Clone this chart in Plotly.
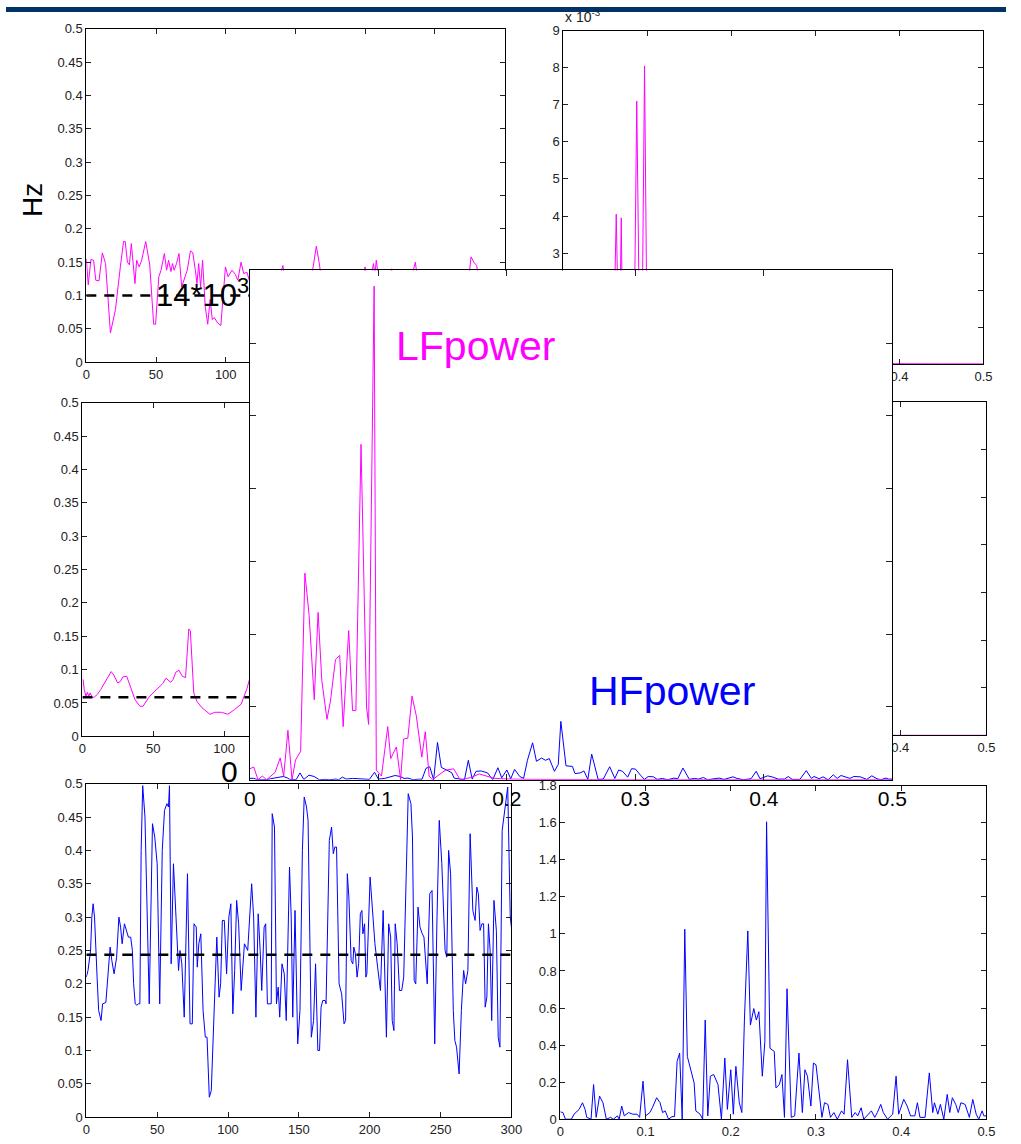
import plotly.graph_objects as go

W, H = 1021, 1144

# ---------------- data ----------------
# top-left: LF centre frequency over time (Hz)
A_T = [0, 1.4, 3.3, 5.2, 6.8, 9.1, 11.5, 13.8, 17.3, 20.9,
       24.4, 26.7, 27.9, 29.5, 30.9, 32.3, 34.9, 36.1, 37.9, 39.6,
       42.6, 45.5, 48.3, 49.7, 52.0, 53.6, 56.0, 57.6, 59.0, 60.7,
       61.8, 63.0, 64.7, 66.5, 68.4, 70.5, 72.4, 74.7, 76.4, 78.2,
       79.4, 80.6, 82.0, 83.4, 85.3, 87.1, 88.8, 90.4, 91.8, 94.2,
       96.5, 99.8, 101.7, 104.5, 106.8, 108.7, 111.0, 112.9, 115.2, 116.9,
       119, 122, 125, 128, 131, 134, 137, 139, 141, 143,
       146, 149, 152, 155, 158, 161, 163, 165, 167, 169,
       172, 175, 178, 181, 184, 187, 190, 193, 196, 198,
       200, 202, 204, 206, 207, 208, 210, 213, 216, 219,
       221, 224, 227, 230, 233, 236, 238, 241, 244, 247,
       250, 253, 256, 259, 262, 265, 268, 271, 274, 276,
       278, 280, 282, 285, 288, 291, 294, 297, 300]
A_HZ = [0.155, 0.116, 0.154, 0.153, 0.123, 0.122, 0.164, 0.148, 0.044, 0.079,
        0.143, 0.181, 0.181, 0.150, 0.146, 0.178, 0.118, 0.153, 0.143, 0.152,
        0.181, 0.146, 0.057, 0.057, 0.128, 0.138, 0.163, 0.138, 0.153, 0.136,
        0.148, 0.138, 0.148, 0.163, 0.113, 0.125, 0.138, 0.167, 0.164, 0.138,
        0.118, 0.148, 0.113, 0.153, 0.084, 0.057, 0.094, 0.064, 0.067, 0.059,
        0.055, 0.143, 0.128, 0.138, 0.132, 0.123, 0.150, 0.133, 0.135, 0.123,
        0.11, 0.13, 0.10, 0.12, 0.09, 0.11, 0.125, 0.13, 0.145, 0.12,
        0.10, 0.12, 0.09, 0.11, 0.13, 0.12, 0.15, 0.174, 0.15, 0.12,
        0.10, 0.115, 0.09, 0.11, 0.125, 0.10, 0.12, 0.105, 0.13, 0.12,
        0.143, 0.11, 0.125, 0.148, 0.13, 0.153, 0.12, 0.10, 0.12, 0.14,
        0.11, 0.09, 0.12, 0.10, 0.125, 0.15, 0.12, 0.10, 0.115, 0.09,
        0.11, 0.125, 0.10, 0.12, 0.095, 0.11, 0.13, 0.105, 0.12, 0.158,
        0.15, 0.145, 0.12, 0.10, 0.115, 0.095, 0.11, 0.12, 0.10]

# top-right: LF spectrum (x 10^-3)
B_F = [0.0, 0.01, 0.02, 0.03, 0.04, 0.045, 0.05, 0.055, 0.0605, 0.063,
       0.0655, 0.0675, 0.069, 0.0705, 0.075, 0.08, 0.0845, 0.0874, 0.0905, 0.094,
       0.0967, 0.0995, 0.105, 0.11, 0.12, 0.13, 0.14, 0.15, 0.17, 0.20,
       0.25, 0.30, 0.35, 0.40, 0.45, 0.50]
B_P = [0.2, 0.3, 0.5, 0.8, 1.2, 1.8, 1.5, 2.0, 1.2, 4.05,
       1.0, 1.5, 3.95, 0.8, 1.6, 2.1, 1.0, 7.1, 1.2, 1.4,
       8.05, 1.0, 0.6, 1.2, 0.5, 0.8, 0.3, 0.15, 0.08, 0.05,
       0.03, 0.02, 0.02, 0.01, 0.01, 0.01]

# middle-left: LF centre frequency over time (Hz)
C_T = [0, 0.5, 1.3, 2.5, 3.5, 4.5, 5.5, 7.0, 8.5, 10.6,
       12.9, 15.2, 17.5, 20.3, 22.1, 24.9, 26.7, 28.6, 31.3, 33.6,
       37.1, 40.6, 42.8, 47.4, 52.0, 56.7, 59.0, 62.4, 64.0, 65.9,
       68.2, 70.5, 72.8, 75.1, 76.2, 78.6, 80.9, 84.3, 90.0, 93.5,
       98.1, 102.7, 107.3, 112.0, 115.9, 117.9,
       122, 127, 132, 137, 142, 147, 152, 157, 162, 167,
       172, 177, 182, 187, 192, 197, 202, 207, 212, 217,
       222, 227, 232, 237, 242, 247, 252, 257, 262, 267,
       272, 277, 282, 287, 292, 297, 300]
C_HZ = [0.085, 0.085, 0.07, 0.06, 0.066, 0.06, 0.065, 0.058, 0.059, 0.063,
        0.07, 0.078, 0.087, 0.097, 0.092, 0.08, 0.082, 0.089, 0.09, 0.077,
        0.055, 0.045, 0.045, 0.06, 0.07, 0.079, 0.087, 0.081, 0.085, 0.096,
        0.099, 0.09, 0.088, 0.161, 0.158, 0.065, 0.052, 0.043, 0.033, 0.036,
        0.036, 0.033, 0.04, 0.048, 0.07, 0.085,
        0.095, 0.10, 0.09, 0.08, 0.072, 0.065, 0.07, 0.078, 0.085, 0.08,
        0.07, 0.062, 0.058, 0.06, 0.068, 0.075, 0.082, 0.09, 0.086, 0.078,
        0.07, 0.064, 0.06, 0.066, 0.072, 0.08, 0.085, 0.079, 0.07, 0.062,
        0.058, 0.063, 0.07, 0.077, 0.074, 0.068, 0.066]

# bottom-left: HF centre frequency over time (Hz)
E_T = [0, 1.2, 3.0, 3.9, 4.8, 5.8, 7.6, 8.7, 10.4, 11.5,
       13.8, 15.4, 16.8, 18.0, 19.6, 21.4, 23.0, 24.2, 25.3, 26.9,
       28.3, 29.7, 31.3, 32.5, 33.4, 34.5, 35.7, 36.8, 37.8, 38.7,
       39.8, 41.4, 44.4, 46.7, 48.3, 50.0, 51.8, 53.6, 55.2, 56.9,
       58.0, 58.7, 59.9, 61.5, 63.3, 65.1, 66.1, 67.4, 69.1, 71.4,
       73.2, 74.8, 76.0, 77.6, 78.3, 79.4, 80.8, 82.4, 84.0, 85.2,
       86.8, 88.2, 90.9, 92.1, 93.7, 94.8, 96.0, 97.4, 99.0, 100.6,
       102.0, 103.4, 104.7, 106.1, 107.5, 109.3, 111.6, 113.9, 116.7, 118.1,
       119.7, 121.3, 122.7, 123.8, 125.5, 126.6, 127.8, 128.9, 130.5, 131.2,
       132.8, 134.2, 135.4, 136.5, 138.1, 139.7, 141.1, 143.4, 144.6, 145.7,
       147.3, 149.2, 150.8, 152.5, 153.8, 155.4, 156.5, 158.8, 160.4, 161.8,
       163.4, 164.6, 165.7, 166.9, 168.5, 169.2, 171.5, 173.1, 174.3, 175.4,
       176.6, 178.4, 180.2, 181.9, 183.0, 184.2, 185.3, 186.9, 188.1, 188.8,
       189.9, 191.1, 192.2, 193.4, 194.5, 195.2, 196.4, 197.3, 198.0, 200.3,
       201.9, 203.7, 205.6, 207.6, 209.5, 210.6, 211.8, 213.4, 214.8, 215.9,
       217.1, 218.0, 219.4, 221.0, 222.6, 224.0, 225.6, 227.2, 229.1, 230.2,
       231.4, 232.5, 234.1, 235.5, 237.1, 238.3, 240.6, 242.4, 244.0, 245.9,
       247.5, 249.1, 250.9, 253.2, 254.4, 255.7, 257.1, 259.0, 260.1, 261.3,
       263.1, 264.7, 266.3, 267.7, 269.3, 270.9, 272.8, 274.4, 275.6, 276.7,
       277.9, 279.2, 280.4, 281.5, 282.7, 283.8, 285.0, 286.1, 287.7, 289.4,
       290.7, 291.9, 293.5, 295.3, 297.4, 299.2, 300]
E_HZ = [0.21, 0.22, 0.25, 0.30, 0.32, 0.30, 0.21, 0.16, 0.145, 0.17,
        0.172, 0.225, 0.255, 0.235, 0.215, 0.24, 0.30, 0.285, 0.26, 0.29,
        0.28, 0.27, 0.27, 0.25, 0.20, 0.17, 0.168, 0.17, 0.17, 0.40,
        0.497, 0.45, 0.17, 0.44, 0.42, 0.38, 0.17, 0.40, 0.46, 0.47,
        0.465, 0.497, 0.23, 0.38, 0.30, 0.22, 0.25, 0.23, 0.15, 0.365,
        0.14, 0.14, 0.29, 0.285, 0.225, 0.26, 0.275, 0.16, 0.12, 0.12,
        0.03, 0.04, 0.20, 0.27, 0.18, 0.20, 0.295, 0.295, 0.215, 0.30,
        0.32, 0.155, 0.22, 0.325, 0.29, 0.19, 0.26, 0.25, 0.35, 0.30,
        0.15, 0.305, 0.25, 0.19, 0.285, 0.29, 0.17, 0.17, 0.17, 0.455,
        0.435, 0.17, 0.195, 0.15, 0.23, 0.215, 0.145, 0.375, 0.30, 0.15,
        0.31, 0.11, 0.16, 0.40, 0.48, 0.465, 0.445, 0.12, 0.145, 0.23,
        0.10, 0.10, 0.165, 0.175, 0.175, 0.17, 0.415, 0.435, 0.395, 0.405,
        0.405, 0.20, 0.185, 0.14, 0.145, 0.365, 0.33, 0.235, 0.23, 0.255,
        0.245, 0.21, 0.23, 0.305, 0.31, 0.275, 0.29, 0.21, 0.215, 0.36,
        0.31, 0.26, 0.225, 0.19, 0.31, 0.22, 0.12, 0.29, 0.27, 0.145,
        0.13, 0.29, 0.26, 0.19, 0.19, 0.21, 0.35, 0.485, 0.47, 0.42,
        0.205, 0.20, 0.315, 0.285, 0.275, 0.27, 0.20, 0.335, 0.34, 0.11,
        0.30, 0.445, 0.38, 0.25, 0.24, 0.40, 0.365, 0.16, 0.115, 0.105,
        0.065, 0.16, 0.22, 0.20, 0.22, 0.425, 0.31, 0.295, 0.345, 0.335,
        0.28, 0.29, 0.29, 0.165, 0.18, 0.29, 0.25, 0.145, 0.325, 0.28,
        0.12, 0.105, 0.43, 0.46, 0.495, 0.30, 0.285]

# bottom-right: HF spectrum
HF_F = [0.0, 0.003, 0.006, 0.013, 0.016, 0.022, 0.026, 0.029, 0.031, 0.036,
        0.039, 0.042, 0.046, 0.050, 0.054, 0.059, 0.062, 0.067, 0.069, 0.072,
        0.075, 0.080, 0.085, 0.090, 0.093, 0.097, 0.100, 0.105, 0.108, 0.113,
        0.117, 0.120, 0.123, 0.127, 0.131, 0.134, 0.137, 0.140, 0.143, 0.146,
        0.149, 0.154, 0.157, 0.159, 0.164, 0.167, 0.170, 0.173, 0.176, 0.180,
        0.185, 0.189, 0.193, 0.196, 0.200, 0.203, 0.206, 0.210, 0.213, 0.216,
        0.220, 0.223, 0.227, 0.230, 0.233, 0.237, 0.240, 0.242, 0.246, 0.251,
        0.253, 0.257, 0.260, 0.263, 0.266, 0.271, 0.275, 0.280, 0.284, 0.287,
        0.290, 0.294, 0.297, 0.300, 0.304, 0.307, 0.310, 0.314, 0.317, 0.321,
        0.325, 0.330, 0.333, 0.337, 0.342, 0.346, 0.349, 0.353, 0.356, 0.361,
        0.365, 0.369, 0.372, 0.376, 0.379, 0.384, 0.390, 0.394, 0.397, 0.403,
        0.407, 0.411, 0.416, 0.419, 0.422, 0.428, 0.433, 0.437, 0.439, 0.443,
        0.446, 0.450, 0.454, 0.457, 0.460, 0.464, 0.467, 0.470, 0.475, 0.480,
        0.484, 0.488, 0.491, 0.495, 0.497, 0.500]
HF_P = [0.04, 0.036, 0.0, 0.0, 0.027, 0.053, 0.089, 0.053, 0.01, 0.0,
        0.187, 0.01, 0.125, 0.089, 0.0, 0.01, 0.0, 0.018, 0.0, 0.071,
        0.018, 0.036, 0.027, 0.027, 0.01, 0.205, 0.018, 0.036, 0.062, 0.116,
        0.089, 0.036, 0.045, 0.0, 0.014, 0.014, 0.312, 0.357, 0.0, 1.025,
        0.339, 0.25, 0.196, 0.045, 0.027, 0.0, 0.535, 0.018, 0.232, 0.241,
        0.187, 0.0, 0.33, 0.053, 0.267, 0.027, 0.285, 0.089, 0.036, 0.535,
        1.016, 0.508, 0.597, 0.535, 0.58, 0.232, 0.419, 1.605, 0.383, 0.366,
        0.169, 0.187, 0.241, 0.01, 0.704, 0.01, 0.018, 0.357, 0.036, 0.267,
        0.232, 0.071, 0.303, 0.294, 0.125, 0.01, 0.089, 0.08, 0.01, 0.036,
        0.0, 0.045, 0.027, 0.321, 0.01, 0.036, 0.018, 0.062, 0.0, 0.027,
        0.045, 0.01, 0.036, 0.08, 0.036, 0.0, 0.027, 0.232, 0.027, 0.107,
        0.071, 0.018, 0.018, 0.089, 0.01, 0.01, 0.25, 0.036, 0.089, 0.027,
        0.08, 0.0, 0.134, 0.036, 0.116, 0.08, 0.036, 0.089, 0.08, 0.01,
        0.107, 0.027, 0.0, 0.045, 0.018, 0.018]

# enlarged overlay: LF spectrum
LF_F = [0.0, 0.003, 0.0063, 0.0097, 0.013, 0.0196, 0.0236, 0.0263, 0.0296, 0.0328,
        0.0355, 0.0395, 0.0428, 0.0461, 0.0501, 0.0531, 0.056, 0.060, 0.0627, 0.0666,
        0.0699, 0.0726, 0.0769, 0.0799, 0.0825, 0.0865, 0.0908, 0.0924, 0.0967, 0.0984,
        0.1024, 0.1073, 0.1096, 0.114, 0.1173, 0.1196, 0.1229, 0.1262, 0.1295, 0.1338,
        0.1365, 0.1395, 0.1421, 0.152, 0.1586, 0.1636, 0.1719, 0.1785, 0.19, 0.20,
        0.22, 0.25, 0.30, 0.35, 0.40, 0.45, 0.50]
LF_P = [0.3, 0.35, 0.0, 0.10, 0.0, 0.20, 0.60, 0.10, 1.36, 0.0,
        0.54, 0.78, 5.68, 4.52, 2.20, 4.60, 2.72, 1.66, 2.16, 3.30,
        3.42, 1.46, 4.10, 1.90, 1.90, 9.22, 2.00, 1.52, 13.57, 0.26,
        0.10, 1.46, 0.58, 0.90, 0.0, 1.12, 1.14, 2.30, 1.76, 0.62,
        1.32, 0.10, 0.0, 0.26, 0.30, 0.0, 0.06, 0.16, 0.04, 0.02,
        0.01, 0.0, 0.0, 0.0, 0.0, 0.0, 0.0]

MEAN_LEVELS = [0.1, 0.0587, 0.2436]   # dashed mean lines (A, C, E)
T_RANGE = [0, 300]

# tick values / labels (labels that sit under the enlarged overlay are left blank)
T_TICKS = [0, 50, 100, 150, 200, 250, 300]
T_TEXT_FULL = ['0', '50', '100', '150', '200', '250', '300']
T_TEXT_PART = ['0', '50', '100', '', '', '', '']
F_TICKS = [0, 0.1, 0.2, 0.3, 0.4, 0.5]
F_TEXT_PART = ['', '', '', '', '0.4', '0.5']
B_TICKS = list(range(10))
B_TEXT = ['', '', '', '3', '4', '5', '6', '7', '8', '9']
D_TICKS = [0, 2, 4, 6, 8, 10, 12, 14]

for a, b in [(A_T, A_HZ), (B_F, B_P), (C_T, C_HZ), (E_T, E_HZ), (HF_F, HF_P), (LF_F, LF_P)]:
    assert len(a) == len(b), (len(a), len(b))

MAG = '#FF00FF'
BLU = '#0000FF'


def xdom(l, r):
    return [l / W, r / W]


def ydom(t, b):
    return [1 - b / H, 1 - t / H]


FONT = 'Arial, Liberation Sans, sans-serif'
base_ax = dict(showline=True, linecolor='black', linewidth=1, mirror='ticks',
               ticks='inside', ticklen=5, tickwidth=1, tickcolor='#222',
               showgrid=False, zeroline=False, fixedrange=True,
               tickfont=dict(family=FONT, size=13, color='#222'))


def ax(**kw):
    d = dict(base_ax)
    d.update(kw)
    return d


fig = go.Figure()


def line(x, y, n, color, width=1, dash=None):
    sfx = '' if n == 1 else str(n)
    fig.add_trace(go.Scatter(x=x, y=y, mode='lines', xaxis='x' + sfx, yaxis='y' + sfx,
                             line=dict(color=color, width=width, dash=dash),
                             hoverinfo='skip', showlegend=False))


# panel A
line(A_T, A_HZ, 1, MAG)
line(T_RANGE, [MEAN_LEVELS[0]] * 2, 1, 'black', 2.5, '10px,8px')
# panel B
line(B_F, B_P, 2, MAG)
# panel C
line(C_T, C_HZ, 3, MAG)
line(T_RANGE, [MEAN_LEVELS[1]] * 2, 3, 'black', 2.5, '10px,8px')
# panel D
line(LF_F, LF_P, 4, MAG)
# panel E
line(E_T, E_HZ, 5, BLU)
line(T_RANGE, [MEAN_LEVELS[2]] * 2, 5, 'black', 2.5, '10px,8px')
# panel F
line(HF_F, HF_P, 6, BLU)
# overlay (enlarged spectra)
line(HF_F, HF_P, 7, BLU)
line(LF_F, LF_P, 7, MAG)

fig.update_layout(
    width=W, height=H, margin=dict(l=0, r=0, t=0, b=0),
    paper_bgcolor='white', plot_bgcolor='white', showlegend=False,
    xaxis=ax(domain=xdom(82, 509), range=[0, 300], tickvals=T_TICKS, ticktext=T_TEXT_PART, anchor='y'),
    yaxis=ax(domain=ydom(22, 360), range=[0, 0.5], dtick=0.05, anchor='x'),
    xaxis2=ax(domain=xdom(569, 998), range=[0, 0.5], tickvals=F_TICKS, ticktext=F_TEXT_PART, anchor='y2'),
    yaxis2=ax(domain=ydom(24, 362), range=[0, 9], tickvals=B_TICKS, ticktext=B_TEXT, anchor='x2'),
    xaxis3=ax(domain=xdom(78, 512), range=[0, 300], tickvals=T_TICKS, ticktext=T_TEXT_PART, anchor='y3'),
    yaxis3=ax(domain=ydom(401, 739), range=[0, 0.5], dtick=0.05, anchor='x3'),
    xaxis4=ax(domain=xdom(561, 1001), range=[0, 0.5], tickvals=F_TICKS, ticktext=F_TEXT_PART, anchor='y4'),
    yaxis4=ax(domain=ydom(400, 738), range=[0, 14], tickvals=D_TICKS, showticklabels=False, anchor='x4'),
    xaxis5=ax(domain=xdom(82, 516), range=[0, 300], tickvals=T_TICKS, ticktext=T_TEXT_FULL, anchor='y5'),
    yaxis5=ax(domain=ydom(787, 1125), range=[0, 0.5], dtick=0.05, anchor='x5'),
    xaxis6=ax(domain=xdom(566, 1001), range=[0, 0.5], dtick=0.1, anchor='y6'),
    yaxis6=ax(domain=ydom(789, 1127), range=[0, 1.8], dtick=0.2, anchor='x6'),
    xaxis7=ax(domain=xdom(249, 905), range=[0, 0.5], dtick=0.1, anchor='y7', ticklen=6,
              tickfont=dict(family=FONT, size=21, color='black')),
    yaxis7=ax(domain=ydom(267, 783), range=[0, 14], tickvals=D_TICKS, anchor='x7', ticklen=6,
              showticklabels=False),
)

ann = [
    dict(text='Hz', x=27 / W, y=1 - 195 / H, textangle=-90, xanchor='center', yanchor='middle',
         font=dict(size=28, color='black')),
    dict(text='14*10<sup>3</sup>', x=151 / W, y=1 - 290 / H, xanchor='left', yanchor='middle',
         font=dict(size=31, color='black')),
    dict(text='LFpower', x=396 / W, y=1 - 343 / H, xanchor='left', yanchor='middle',
         font=dict(size=41, color=MAG)),
    dict(text='HFpower', x=593 / W, y=1 - 693 / H, xanchor='left', yanchor='middle',
         font=dict(size=41, color=BLU)),
    dict(text='x 10<sup>-3</sup>', x=569 / W, y=1 - 9 / H, xanchor='left', yanchor='middle',
         font=dict(size=14, color='#222')),
    dict(text='0', x=228 / W, y=1 - 775 / H, xanchor='center', yanchor='middle',
         font=dict(size=30, color='black')),
]
for a in ann:
    a.update(xref='paper', yref='paper', showarrow=False)
    a['font']['family'] = FONT
fig.update_layout(annotations=ann)

fig.add_shape(type='rect', xref='paper', yref='paper', x0=0, x1=1, y0=1 - 5 / H, y1=1,
              fillcolor='#003366', line=dict(width=0), layer='above')

fig.write_html('out.html')
